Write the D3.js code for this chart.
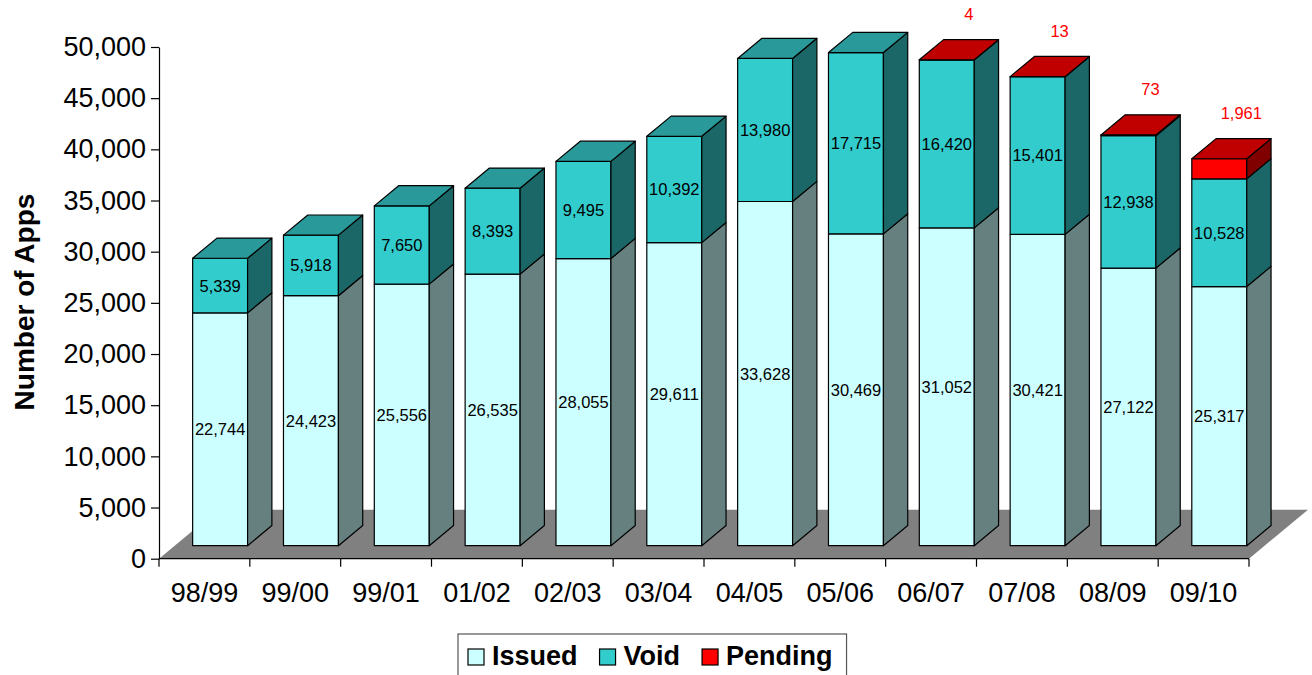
<!DOCTYPE html>
<html>
<head>
<meta charset="utf-8">
<script src="https://cdn.jsdelivr.net/npm/d3@7"></script>
<style>
  body { margin: 0; background: #fff; }
  text { font-family: Arial, "Liberation Sans", sans-serif; }
</style>
</head>
<body>
<div id="chart"></div>
<script>
// values
const categories = ["98/99", "99/00", "99/01", "01/02", "02/03", "03/04", "04/05", "05/06", "06/07", "07/08", "08/09", "09/10"];
const issued = [22744, 24423, 25556, 26535, 28055, 29611, 33628, 30469, 31052, 30421, 27122, 25317];
const voided = [5339, 5918, 7650, 8393, 9495, 10392, 13980, 17715, 16420, 15401, 12938, 10528];
const pending = [0, 0, 0, 0, 0, 0, 0, 0, 4, 13, 73, 1961];
const yTicks = [0, 5000, 10000, 15000, 20000, 25000, 30000, 35000, 40000, 45000, 50000];
const seriesNames = ["Issued", "Void", "Pending"];

const width = 1312, height = 675;

const svg = d3.select("#chart").append("svg")
    .attr("width", width)
    .attr("height", height);

// colours per series: front, side, top
const colors = {
    Issued: { front: "#CCFFFF", side: "#668080", top: "#99CCCC" },
    Void: { front: "#33CCCC", side: "#1B6666", top: "#299999" },
    Pending: { front: "#FF0000", side: "#800000", top: "#C00000" }
};

const x = d3.scaleBand().domain(categories).range([159, 1249]);
const y = d3.scaleLinear().domain([0, 50000]).range([558.7, 47]);

// fake 3d: depth z moves right and up
const k = 0.83;
const zFront = 15.7, zBack = 40, zFloor = 59;
const barW = x.bandwidth() * 0.605;
const pt = (xs, v, z) => [xs + z, y(v) - z * k];

const rows = categories.map((c, i) => ({ cat: c, Issued: issued[i], Void: voided[i], Pending: pending[i] }));
const stacked = d3.stack().keys(seriesNames)(rows);

// floor
const fl = [pt(x.range()[0], 0, 0), pt(x.range()[1], 0, 0), pt(x.range()[1], 0, zFloor), pt(x.range()[0], 0, zFloor)];
svg.append("polygon")
    .attr("points", fl.map(p => p.join(",")).join(" "))
    .attr("fill", "#808080");

// bars
const line = d3.line();
const bars = svg.append("g").attr("stroke", "#000").attr("stroke-width", 1.2).attr("stroke-linejoin", "round");

categories.forEach((c, i) => {
    const x0 = x(c) + (x.bandwidth() - barW) / 2;
    const x1 = x0 + barW;
    const g = bars.append("g");
    let topKey = null, topVal = 0;
    seriesNames.forEach((key, si) => {
        const seg = stacked[si][i];
        const lo = seg[0], hi = seg[1];
        if (hi - lo <= 0) return;
        topKey = key; topVal = hi;
        const front = [pt(x0, lo, zFront), pt(x1, lo, zFront), pt(x1, hi, zFront), pt(x0, hi, zFront)];
        const side = [pt(x1, lo, zFront), pt(x1, lo, zBack), pt(x1, hi, zBack), pt(x1, hi, zFront)];
        g.append("path").attr("d", line(front) + "Z").attr("fill", colors[key].front);
        g.append("path").attr("d", line(side) + "Z").attr("fill", colors[key].side);
    });
    const top = [pt(x0, topVal, zFront), pt(x0, topVal, zBack), pt(x1, topVal, zBack), pt(x1, topVal, zFront)];
    g.append("path").attr("d", line(top) + "Z").attr("fill", colors[topKey].top);
});

// labels inside the bars
const labels = svg.append("g").attr("font-size", 16.5).attr("text-anchor", "middle");
categories.forEach((c, i) => {
    const cx = x(c) + x.bandwidth() / 2 + zFront;
    ["Issued", "Void"].forEach(key => {
        const seg = stacked[seriesNames.indexOf(key)][i];
        const cy = (y(seg[0]) + y(seg[1])) / 2 - zFront * k;
        labels.append("text")
            .attr("x", cx).attr("y", cy).attr("dy", "0.36em")
            .text(d3.format(",")(seg[1] - seg[0]));
    });
    if (pending[i] > 0) {
        const total = issued[i] + voided[i] + pending[i];
        labels.append("text")
            .attr("x", cx + 22).attr("y", y(total) - zFront * k - 46).attr("dy", "0.36em")
            .attr("fill", "#FF0000")
            .text(d3.format(",")(pending[i]));
    }
});

// y axis
const yAxis = svg.append("g")
    .attr("transform", "translate(159,0)")
    .call(d3.axisLeft(y).tickValues(yTicks).tickSize(8).tickSizeOuter(0).tickPadding(5).tickFormat(d3.format(",")));
yAxis.selectAll("text").attr("font-size", 27).attr("font-family", "Arial, 'Liberation Sans', sans-serif").attr("fill", "#000");
yAxis.selectAll("line, path").attr("stroke", "#000").attr("stroke-width", 1.2);

// x axis: line, ticks at band edges, labels at band centres
const xAxis = svg.append("g");
xAxis.append("line")
    .attr("x1", x.range()[0]).attr("x2", x.range()[1])
    .attr("y1", y(0)).attr("y2", y(0))
    .attr("stroke", "#000").attr("stroke-width", 1.2);
const edges = categories.map(c => x(c)).concat([x.range()[1]]);
xAxis.selectAll(".tk").data(edges).join("line")
    .attr("x1", d => d).attr("x2", d => d)
    .attr("y1", y(0)).attr("y2", y(0) + 8)
    .attr("stroke", "#000").attr("stroke-width", 1.2);
xAxis.selectAll(".lb").data(categories).join("text")
    .attr("x", d => x(d) + x.bandwidth() / 2)
    .attr("y", 602)
    .attr("text-anchor", "middle")
    .attr("font-size", 27)
    .text(d => d);

// y title
svg.append("text")
    .attr("transform", "translate(34,302) rotate(-90)")
    .attr("text-anchor", "middle")
    .attr("font-size", 28)
    .attr("font-weight", "bold")
    .text("Number of Apps");

// legend
const legend = svg.append("g").attr("transform", "translate(458,634)");
const box = legend.append("rect")
    .attr("x", 0).attr("y", 0).attr("height", 60)
    .attr("fill", "#fff").attr("stroke", "#555").attr("stroke-width", 1.2);
let lx = 10;
seriesNames.forEach(name => {
    legend.append("rect")
        .attr("x", lx).attr("y", 15).attr("width", 16).attr("height", 16)
        .attr("fill", colors[name].front).attr("stroke", "#000").attr("stroke-width", 1.2);
    const t = legend.append("text")
        .attr("x", lx + 24).attr("y", 31)
        .attr("font-size", 27).attr("font-weight", "bold")
        .text(name);
    lx += 24 + t.node().getComputedTextLength() + 22;
});
box.attr("width", lx - 8);
</script>
</body>
</html>
